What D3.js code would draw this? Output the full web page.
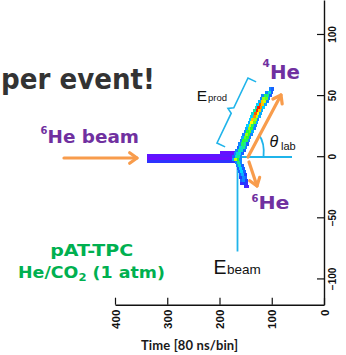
<!DOCTYPE html>
<html>
<head>
<meta charset="utf-8">
<script src="https://cdn.jsdelivr.net/npm/d3@7"></script>
<style>
  body { margin: 0; background: #fff; }
  svg { display: block; }
</style>
</head>
<body>
<svg id="chart" width="346" height="355"></svg>
<script>
// tick labels
const xTicks = [400, 300, 200, 100, 0];
const yTicks = [100, 50, 0, -50, -100];

// beam runs: [pad y (mm), time from, time to, charge]
const beamRuns = [
  [3, 165, 199, 0.05],
  [0.5, 168, 338, 0.07],
  [-2, 168, 338, 0.04],
  [-4.5, 168, 338, 0.17],
];

// 4He track, one row per pad row: [y, first time bin, charges of 5-bin cells]
const he4Rows = [
  [0, 156, [0.3, 0.5, 0.45, 0.25]],
  [2.5, 153, [0.25, 0.4, 0.45, 0.3]],
  [5, 150, [0.25, 0.45, 0.5, 0.3]],
  [7.5, 147, [0.3, 0.5, 0.45, 0.25]],
  [10, 144, [0.25, 0.5, 0.55, 0.3]],
  [12.5, 141, [0.3, 0.55, 0.6, 0.3]],
  [15, 139, [0.3, 0.6, 0.65, 0.35]],
  [17.5, 136, [0.3, 0.6, 0.7, 0.3]],
  [20, 134, [0.35, 0.65, 0.6, 0.3]],
  [22.5, 131, [0.3, 0.6, 0.7, 0.35]],
  [25, 129, [0.3, 0.55, 0.75, 0.4]],
  [27.5, 126, [0.35, 0.65, 0.8, 0.35]],
  [30, 124, [0.3, 0.7, 0.85, 0.4]],
  [32.5, 121, [0.35, 0.75, 0.9, 0.4]],
  [35, 119, [0.35, 0.8, 0.95, 0.45]],
  [37.5, 116, [0.35, 0.85, 1.0, 0.5]],
  [40, 113, [0.4, 0.9, 1.0, 0.45]],
  [42.5, 110, [0.35, 0.85, 0.95, 0.4]],
  [45, 106, [0.3, 0.75, 0.85, 0.35]],
  [47.5, 103, [0.3, 0.65, 0.7, 0.3]],
  [50, 100, [0.25, 0.5, 0.55, 0.3]],
  [52.5, 97, [0.25, 0.45, 0.3]],
  [55, 96, [0.25, 0.3]],
];

// 6He track
const he6Rows = [
  [-2.5, 157, [0.3, 0.6, 0.75, 0.35]],
  [-5, 156, [0.3, 0.5, 0.3]],
  [-7.5, 154, [0.25, 0.45, 0.3]],
  [-10, 152, [0.25, 0.4, 0.25]],
  [-12.5, 150, [0.25, 0.4, 0.25]],
  [-15, 148, [0.2, 0.35, 0.25]],
  [-17.5, 147, [0.25, 0.3, 0.2]],
  [-20, 146, [0.2, 0.3, 0.25]],
  [-22.5, 145, [0.15, 0.2, 0.15]],
  [-25, 144, [0.1, 0.15]],
];

const svg = d3.select('#chart');
const dt = 5, dv = 2.5;

const x = d3.scaleLinear().domain([400, 0]).range([115, 324]);
const y = d3.scaleLinear().domain([-121.5, 127.8]).range([304.7, 0]);
const color = d3.scaleLinear()
  .domain([0, 0.2, 0.4, 0.6, 0.8, 1])
  .range(['#7f00ff', '#1e3cff', '#00d2ff', '#2bff2b', '#ffff00', '#ff1e00'])
  .clamp(true);

const cyan = '#1fb4ea';
const orange = '#f89c4c';
const purple = '#7030a0';
const comic = "'Comic Sans MS', 'DejaVu Sans', sans-serif";
const sans = "'Liberation Sans', Arial, sans-serif";

// ---- axes ----
const bottomY = y(-121.5);
const gx = svg.append('g').attr('transform', `translate(0,${bottomY})`);
gx.call(d3.axisBottom(x).tickValues(d3.range(0, 401, 20).filter(d => d % 100)).tickSize(-4).tickSizeOuter(0).tickFormat(''));
gx.call(d3.axisBottom(x).tickValues(xTicks).tickSize(-7).tickSizeOuter(0).tickFormat(d3.format('d')));
gx.selectAll('text')
  .attr('transform', 'rotate(-90)')
  .attr('text-anchor', 'end')
  .attr('x', -5)
  .attr('y', 0)
  .attr('dy', '0.36em')
  .attr('font-family', sans)
  .attr('font-weight', 'bold')
  .attr('font-size', 11.5)
  .attr('fill', '#111');

const gy = svg.append('g').attr('transform', `translate(${x(0)},0)`);
gy.call(d3.axisRight(y).tickValues(d3.range(-120, 121, 10).filter(d => d % 50)).tickSize(-4).tickSizeOuter(0).tickFormat(''));
gy.call(d3.axisRight(y).tickValues(yTicks).tickSize(-7).tickSizeOuter(0).tickFormat(d3.format('d')));
gy.selectAll('text')
  .attr('transform', 'rotate(-90)')
  .attr('text-anchor', 'middle')
  .attr('x', 0)
  .attr('y', 11.5)
  .attr('dy', 0)
  .attr('font-family', sans)
  .attr('font-weight', 'bold')
  .attr('font-size', 10)
  .attr('fill', '#111');

svg.selectAll('.domain').attr('stroke', '#111').attr('stroke-width', 1.4);
svg.selectAll('.tick line').attr('stroke', '#111').attr('stroke-width', 1.2);

svg.append('text')
  .attr('x', 189.5).attr('y', 350)
  .attr('text-anchor', 'middle')
  .attr('font-family', "Lato, 'Open Sans', sans-serif")
  .attr('font-weight', 'bold')
  .attr('font-size', 13)
  .attr('textLength', 97)
  .attr('fill', '#1a1a1a')
  .text('Time [80 ns/bin]');

// ---- cyan guides ----
const guides = svg.append('g').attr('stroke', cyan).attr('fill', 'none').attr('stroke-width', 1.8);
guides.append('line').attr('x1', 240).attr('y1', 157).attr('x2', 292).attr('y2', 157);
guides.append('line').attr('x1', 237.5).attr('y1', 158).attr('x2', 237.5).attr('y2', 251.5);
const arc = d3.path();
arc.moveTo(263.5, 157);
arc.quadraticCurveTo(265, 143, 258.8, 134.5);
guides.append('path').attr('d', arc.toString());

// brace along the 4He track
const T = [248, 78], B = [217, 143];
const len = Math.hypot(T[0] - B[0], T[1] - B[1]);
const u = [(T[0] - B[0]) / len, (T[1] - B[1]) / len];
const n = [-u[1], u[0]];
const M = [(T[0] + B[0]) / 2, (T[1] + B[1]) / 2];
const pt = (p, a, v) => [p[0] + a * v[0], p[1] + a * v[1]];
const brace = [
  pt(T, 9, n), T, pt(M, 3, u), pt(M, -5, n), pt(M, -3, u), B, pt(B, 9, n),
];
guides.append('path').attr('d', d3.line()(brace)).attr('stroke-width', 1.6).attr('stroke-linejoin', 'miter');

// ---- heatmap ----
const cells = svg.append('g').attr('shape-rendering', 'crispEdges');
cells.selectAll('rect.beam')
  .data(beamRuns)
  .join('rect')
  .attr('class', 'beam')
  .attr('x', d => x(d[2]))
  .attr('width', d => x(d[1]) - x(d[2]))
  .attr('y', d => y(d[0] + dv / 2))
  .attr('height', d => y(d[0] - dv / 2) - y(d[0] + dv / 2))
  .attr('fill', d => color(d[3]));

const trackCells = rows => rows.flatMap(([v, t0, vals]) =>
  vals.map((c, i) => ({ v, t: t0 + i * dt, c })));

cells.selectAll('rect.trk')
  .data(trackCells(he6Rows).concat(trackCells(he4Rows)))
  .join('rect')
  .attr('class', 'trk')
  .attr('x', d => x(d.t + dt))
  .attr('width', d => x(d.t) - x(d.t + dt))
  .attr('y', d => y(d.v + dv / 2))
  .attr('height', d => y(d.v - dv / 2) - y(d.v + dv / 2))
  .attr('fill', d => color(d.c));

// ---- orange arrows ----
const arrow = (x1, y1, x2, y2) => {
  const a = Math.atan2(y2 - y1, x2 - x1), L = 9, s = 0.62;
  const g = svg.append('g').attr('stroke', orange).attr('stroke-width', 3.2)
    .attr('fill', 'none').attr('stroke-linecap', 'round').attr('stroke-linejoin', 'round');
  g.append('line').attr('x1', x1).attr('y1', y1).attr('x2', x2).attr('y2', y2);
  g.append('path').attr('d', d3.line()([
    [x2 - L * Math.cos(a - s), y2 - L * Math.sin(a - s)],
    [x2, y2],
    [x2 - L * Math.cos(a + s), y2 - L * Math.sin(a + s)],
  ]));
};
arrow(64, 158, 137, 158);
arrow(248, 157, 281, 95);
arrow(249, 162, 257, 186);

// ---- labels ----
const label = (tx, ty, str, opts) => {
  const t = svg.append('text').attr('x', tx).attr('y', ty).text(str);
  Object.entries(opts).forEach(([k, v]) => t.attr(k, v));
  return t;
};
label(1, 88.5, 'per event!', { 'font-family': comic, 'font-weight': 'bold', 'font-size': 28, fill: '#333', textLength: 154, lengthAdjust: 'spacingAndGlyphs' });

label(40.5, 134, '6', { 'font-family': comic, 'font-weight': 'bold', 'font-size': 10, fill: purple });
label(47.5, 143.3, 'He beam', { 'font-family': comic, 'font-weight': 'bold', 'font-size': 18, fill: purple, textLength: 91.5, lengthAdjust: 'spacingAndGlyphs' });

label(262.5, 67, '4', { 'font-family': comic, 'font-weight': 'bold', 'font-size': 10.5, fill: purple });
label(270, 78.5, 'He', { 'font-family': comic, 'font-weight': 'bold', 'font-size': 19, fill: purple, textLength: 30, lengthAdjust: 'spacingAndGlyphs' });

label(251.5, 201.5, '6', { 'font-family': comic, 'font-weight': 'bold', 'font-size': 10, fill: purple });
label(258.5, 209.3, 'He', { 'font-family': comic, 'font-weight': 'bold', 'font-size': 18, fill: purple, textLength: 31, lengthAdjust: 'spacingAndGlyphs' });

label(91.7, 255.5, 'pAT-TPC', { 'font-family': comic, 'font-weight': 'bold', 'font-size': 16, fill: '#00b050', 'text-anchor': 'middle', textLength: 83, lengthAdjust: 'spacingAndGlyphs' });
const gas = svg.append('text').attr('x', 18).attr('y', 278.3)
  .attr('font-family', comic).attr('font-weight', 'bold').attr('font-size', 15)
  .attr('fill', '#00b050').attr('textLength', 147).attr('lengthAdjust', 'spacingAndGlyphs');
gas.append('tspan').text('He/CO');
gas.append('tspan').attr('font-size', 10).attr('dy', 3).text('2');
gas.append('tspan').attr('dy', -3).text(' (1 atm)');

label(196.7, 100.7, 'E', { 'font-family': sans, 'font-size': 15.5, fill: '#111' });
label(208, 100.7, 'prod', { 'font-family': sans, 'font-size': 9.5, fill: '#111' });

label(213.5, 273.5, 'E', { 'font-family': sans, 'font-size': 19.5, fill: '#111' });
label(227, 274, 'beam', { 'font-family': sans, 'font-size': 13.5, fill: '#111' });

label(269.5, 146.7, 'θ', { 'font-family': sans, 'font-style': 'italic', 'font-size': 16, fill: '#111' });
label(281, 150.3, 'lab', { 'font-family': sans, 'font-size': 11, fill: '#111' });
</script>
</body>
</html>
